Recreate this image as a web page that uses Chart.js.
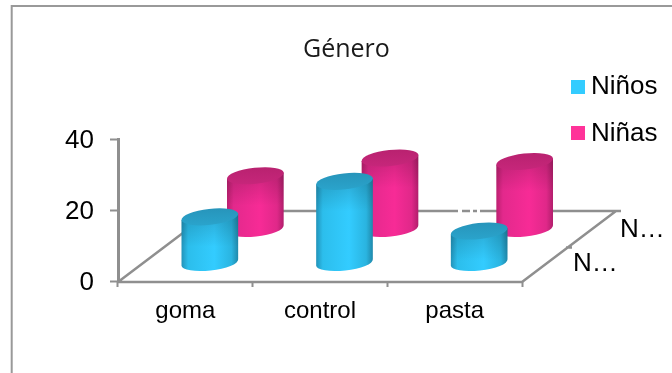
<!DOCTYPE html>
<html>
<head>
<meta charset="utf-8">
<style>
html,body{margin:0;padding:0;background:#fff}
#wrap{position:relative;width:672px;height:373px;overflow:hidden}
canvas{display:block}
</style>
<script src="https://cdn.jsdelivr.net/npm/chart.js@4"></script>
</head>
<body>
<div id="wrap"><canvas id="c" width="672" height="373"></canvas></div>
<script>
// Figures by category and gender
const categories = ['goma', 'control', 'pasta'];
const ninos = [13, 23, 9];
const ninas = [15, 20, 19];
const seriesNames = ['Niños', 'Niñas'];
const depthLabels = ['N…', 'N…'];
const chartTitle = 'Género';

const AXIS = '#8f8f8f';
const SANS = '"Liberation Sans", Arial, sans-serif';

// Oblique projection of the floor and of each depth row
const FLOOR_DEPTH = {dx: 94, dy: -71};
const ROWS = [{dx: 24.5, dy: -18}, {dx: 70, dy: -52}];
const ELLIPSE_RY = 8;
const ELLIPSE_TILT = -0.11;

const PALETTE = [
  {edgeL: '#2292b8', mid1: '#2cbeec', mid2: '#33ccff', mid3: '#2ab4e0', edgeR: '#1f88aa', top: '#2aa3cb', topEdge: '#2795bb'},
  {edgeL: '#bb2070', mid1: '#e3298c', mid2: '#f72b96', mid3: '#e02889', edgeR: '#b01e6b', top: '#c6267a', topEdge: '#b92270'}
];

function drawCylinder(ctx, x, yTop, yBase, rx, c) {
  const ex = rx * Math.cos(ELLIPSE_TILT), ey = rx * Math.sin(ELLIPSE_TILT);
  const bodyGrad = ctx.createLinearGradient(x - rx, 0, x + rx, 0);
  bodyGrad.addColorStop(0, c.edgeL);
  bodyGrad.addColorStop(0.12, c.mid1);
  bodyGrad.addColorStop(0.58, c.mid2);
  bodyGrad.addColorStop(0.88, c.mid3);
  bodyGrad.addColorStop(1, c.edgeR);

  const bodyPath = () => {
    ctx.beginPath();
    ctx.moveTo(x - ex, yTop - ey);
    ctx.lineTo(x - ex, yBase - ey);
    ctx.ellipse(x, yBase, rx, ELLIPSE_RY, ELLIPSE_TILT, Math.PI, 0, true);
    ctx.lineTo(x + ex, yTop + ey);
    ctx.closePath();
  };
  ctx.fillStyle = bodyGrad;
  bodyPath();
  ctx.fill();

  // Darkening just below the lid so that it melts into the side
  const shade = ctx.createLinearGradient(0, yTop, 0, yTop + 30);
  shade.addColorStop(0, 'rgba(0,0,0,0.16)');
  shade.addColorStop(1, 'rgba(0,0,0,0)');
  ctx.fillStyle = shade;
  bodyPath();
  ctx.fill();

  // Lid
  const lid = ctx.createLinearGradient(0, yTop - ELLIPSE_RY, 0, yTop + ELLIPSE_RY);
  lid.addColorStop(0, c.topEdge);
  lid.addColorStop(1, c.top);
  ctx.beginPath();
  ctx.ellipse(x, yTop, rx, ELLIPSE_RY, ELLIPSE_TILT, 0, Math.PI * 2);
  ctx.fillStyle = lid;
  ctx.fill();
}

const cylinders = {
  id: 'cylinders',
  beforeDatasetDraw(chart, args) {
    const ctx = chart.ctx, row = ROWS[args.index], c = PALETTE[args.index];
    ctx.save();
    args.meta.data.forEach(bar => {
      drawCylinder(ctx, bar.x + row.dx, bar.y + row.dy, bar.base + row.dy, bar.width / 2, c);
    });
    ctx.restore();
    return false;
  }
};

const floorAndFrame = {
  id: 'floorAndFrame',
  beforeDraw(chart) {
    const ctx = chart.ctx;
    ctx.save();
    ctx.strokeStyle = '#999999';
    ctx.lineWidth = 2;
    ctx.beginPath();
    ctx.moveTo(11.7, 373);
    ctx.lineTo(11.7, 6);
    ctx.lineTo(672, 6);
    ctx.stroke();
    ctx.restore();
    // Centre the value labels on their tick marks
    chart.scales.y.getLabelItems().forEach(item => { item.options.translation[1] += 1.5; });
  },
  beforeDatasetsDraw(chart) {
    const ctx = chart.ctx, a = chart.chartArea;
    const yFront = a.bottom + 1, yBack = yFront + FLOOR_DEPTH.dy;
    const xl = a.left, xr = a.right;
    ctx.save();
    ctx.strokeStyle = AXIS;
    ctx.lineWidth = 2.5;
    ctx.beginPath();
    // side edges of the floor
    ctx.moveTo(xl, yFront);
    ctx.lineTo(xl + FLOOR_DEPTH.dx, yBack);
    ctx.moveTo(xr, yFront);
    ctx.lineTo(xr + FLOOR_DEPTH.dx, yBack);
    // back edge, broken where the wall grid fades out
    ctx.moveTo(xl + FLOOR_DEPTH.dx, yBack);
    ctx.lineTo(458, yBack);
    ctx.moveTo(462, yBack);
    ctx.lineTo(470, yBack);
    ctx.moveTo(473, yBack);
    ctx.lineTo(477, yBack);
    ctx.moveTo(480, yBack);
    ctx.lineTo(xr + FLOOR_DEPTH.dx + 5, yBack);
    // tick on the depth axis
    ctx.moveTo(xr + FLOOR_DEPTH.dx / 2 - 3, yFront + FLOOR_DEPTH.dy / 2 + 1);
    ctx.lineTo(xr + FLOOR_DEPTH.dx / 2 + 3, yFront + FLOOR_DEPTH.dy / 2 + 1);
    // front edge
    ctx.moveTo(xl - 1, yFront);
    ctx.lineTo(xr, yFront);
    ctx.stroke();
    ctx.restore();
  },
  afterDraw(chart) {
    const ctx = chart.ctx;
    ctx.save();
    ctx.textBaseline = 'middle';
    ctx.textAlign = 'left';

    ctx.font = '25px "Open Sans", "Noto Sans", sans-serif';
    ctx.fillStyle = '#1a1a1a';
    ctx.fillText(chartTitle, 303, 50);

    // Legend
    ctx.font = '26px ' + SANS;
    chart.data.datasets.forEach((ds, i) => {
      const y = 87 + i * 46;
      ctx.fillStyle = ds.backgroundColor;
      ctx.fillRect(571, y - 7, 14, 14);
      ctx.fillStyle = '#000';
      ctx.fillText(ds.label, 591, y + (i ? 1 : 0));
    });

    // Depth axis captions
    ctx.fillText(depthLabels[0], 620, 230);
    ctx.fillText(depthLabels[1], 573, 264);
    ctx.restore();
  }
};

new Chart(document.getElementById('c'), {
  type: 'bar',
  data: {
    labels: categories,
    datasets: [
      {label: seriesNames[0], data: ninos, backgroundColor: '#33ccff'},
      {label: seriesNames[1], data: ninas, backgroundColor: '#ff3399'}
    ]
  },
  plugins: [floorAndFrame, cylinders],
  options: {
    responsive: false,
    animation: false,
    events: [],
    grouped: false,
    barThickness: 57,
    layout: {padding: {left: 0, right: 150, top: 139, bottom: 0}},
    plugins: {legend: {display: false}, title: {display: false}, tooltip: {enabled: false}},
    scales: {
      x: {
        afterFit(scale) { scale.height = 92; },
        grid: {drawOnChartArea: false, drawTicks: true, tickLength: 6, tickWidth: 2, tickColor: AXIS, offset: true},
        border: {display: false},
        ticks: {color: '#000', padding: 10, font: {family: SANS, size: 24}, maxRotation: 0}
      },
      y: {
        min: 0,
        max: 40,
        afterFit(scale) { scale.width = 118; },
        grid: {drawOnChartArea: false, tickLength: 8, tickWidth: 2, tickColor: AXIS},
        border: {display: true, color: AXIS, width: 3},
        ticks: {stepSize: 20, color: '#000', padding: 16, font: {family: SANS, size: 26}}
      }
    }
  }
});
</script>
</body>
</html>
